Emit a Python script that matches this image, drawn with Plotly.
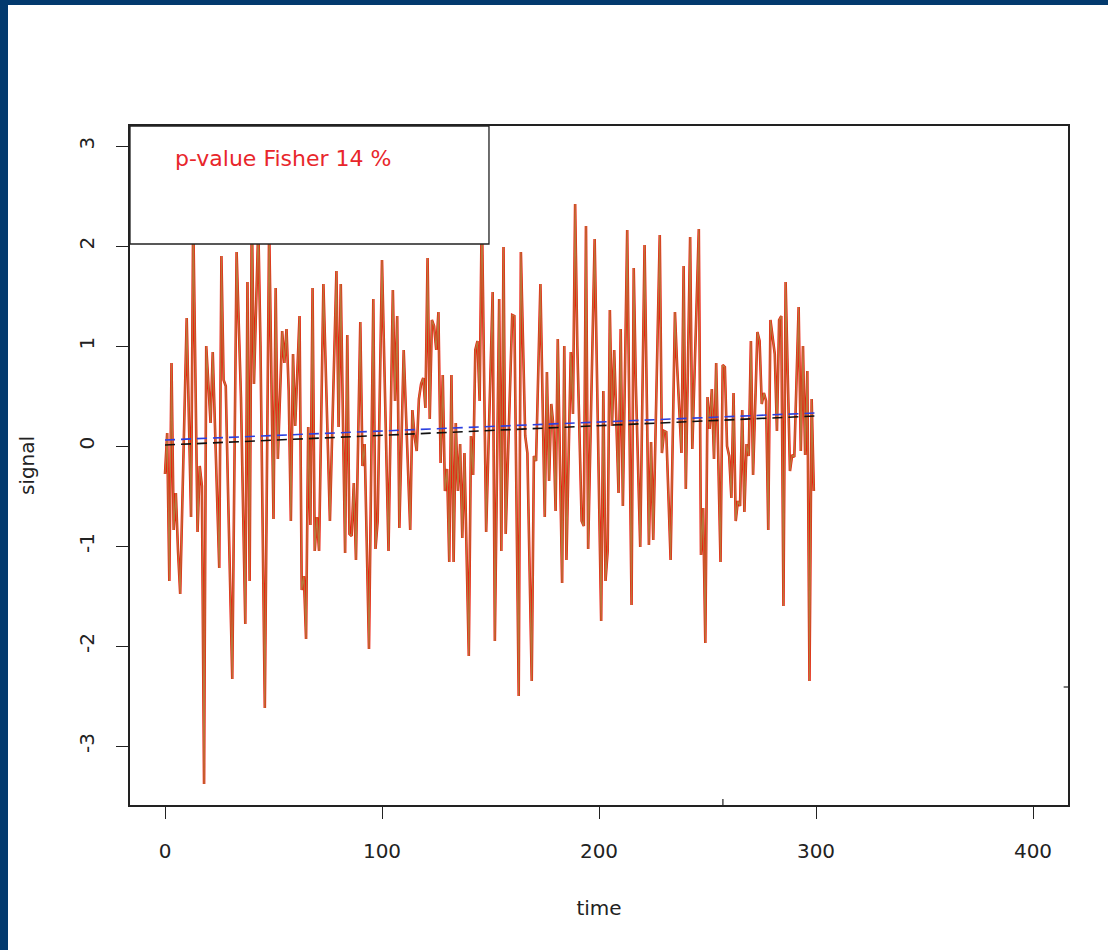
import plotly.graph_objects as go

# ---- data ----
time = [0, 1, 2, 3, 4, 5, 6, 7, 10, 12, 13, 15, 16, 17, 18, 19, 21, 22, 25, 26, 27, 28, 29, 31, 33,
        35, 37, 38, 39, 40, 41, 43, 44, 46, 48, 49, 50, 51, 52, 53, 54, 55, 56, 57, 58, 59, 60, 62, 63, 64, 65, 66, 67, 68, 69, 70, 71,
        73, 76, 79, 80, 81, 83, 84, 85, 86, 87, 88, 90, 91, 92, 94, 96, 97, 98, 100, 101, 103, 105, 106, 107, 108,
        110, 113, 114, 115, 116, 117, 118, 119, 120, 121, 122, 123, 124, 125, 126, 127, 128, 129, 130, 131, 132, 133, 134, 135, 136, 137, 138, 140, 141, 142, 143, 144, 145, 146, 148, 151, 152,
        154, 155, 156, 157, 160, 161, 163, 164, 166, 167, 169, 170, 171, 173, 175, 176, 177, 178, 179, 180, 181, 183, 184, 185, 187, 188, 189, 190, 192, 193, 194, 195, 198,
        201, 202, 203, 204, 205, 206, 207, 209, 210, 211, 213, 215, 216, 217, 219, 221, 223, 224, 225, 228, 229, 230, 231, 233, 235, 236, 238, 239, 240, 242, 243, 246,
        247, 248, 249, 250, 251, 252, 253, 254, 256, 257, 258, 259, 260, 261, 262, 263, 264, 265, 266, 267, 268, 269, 270, 271, 273, 274, 275, 276, 277, 278, 279, 281, 282, 283, 284, 285, 286, 287, 288, 289, 290, 292, 293, 294, 295, 296, 297, 298, 299]

signal = [-0.28, 0.13, -1.35, 0.83, -0.84, -0.47, -1.05, -1.48, 1.28, -0.71, 2.3, -0.86, -0.2, -0.4, -3.38, 1.0, 0.23, 0.94, -1.22, 1.9, 0.66, 0.6, -0.41, -2.33, 1.94,
          0.49, -1.78, 1.64, -1.35, 2.4, 0.62, 2.2, 1.0, -2.62, 2.2, 0.62, -0.73, 1.58, -0.13, 0.5, 1.15, 0.83, 1.17, 0.55, -0.75, 0.92, 0.2, 1.30, -1.44, -1.3, -1.93, 0.19, -0.79, 1.58, -1.05, -0.71, -1.05,
          1.62, -0.75, 1.75, 0.19, 1.62, -1.07, 1.11, -0.88, -0.9, -0.37, -1.14, 1.24, -0.2, 0.02, -2.03, 1.47, -1.03, -0.75, 1.86, 0.9, -1.05, 1.56, 0.45, 1.30, -0.82,
          0.96, -0.84, 0.36, 0.10, -0.05, 0.47, 0.62, 0.68, 0.38, 1.88, 0.27, 1.26, 1.20, 0.96, 1.34, -0.17, 0.71, -0.45, -0.23, -1.16, 0.71, -1.16, 0.23, -0.45, 0.02, -0.92, -0.07, -2.1, 0.10, -0.29, 0.96, 1.05, 0.45, 2.4, -0.86, 1.54, -1.95,
          1.47, -1.05, 1.99, -0.88, 1.31, 1.30, -2.5, 1.94, 0.10, -0.07, -2.35, -0.1, -0.15, 1.62, -0.71, 0.74, -0.35, 0.42, 0.2, -0.65, 1.07, -1.37, 1.00, -1.14, 0.94, 0.32, 2.42, 1.0, -0.75, -0.8, 2.2, -1.03, 2.07,
          -1.75, 0.55, -1.35, -1.05, 1.36, 0.2, 0.96, -0.47, 1.17, -0.6, 2.16, -1.59, 1.78, 0.6, -1.01, 2.01, -0.99, 0.04, -0.94, 2.11, -0.07, 0.15, 0.14, -1.14, 1.34, 0.8, -0.07, 1.8, -0.43, 2.09, -0.03, 2.17,
          -1.09, -0.62, -1.97, 0.49, 0.17, 0.57, -0.13, 0.83, -1.16, 0.81, 0.79, 0.0, -0.1, -0.52, 0.53, -0.75, -0.55, -0.6, 0.36, -0.66, 0.02, -0.1, 1.05, -0.29, 1.14, 1.05, 0.42, 0.53, 0.45, -0.84, 1.26, 0.92, 0.15, 1.26, 1.30, -1.6, 1.64, 0.7, -0.25, -0.09, -0.11, 1.39, -0.05, 1.0, -0.09, 0.75, -2.35, 0.47, -0.45]

trend_time = [0, 300]
trend_black = [0.01, 0.30]
trend_blue = [0.06, 0.33]

x_ticks = [0, 100, 200, 300, 400]
x_labels = ["0", "100", "200", "300", "400"]
y_ticks = [-3, -2, -1, 0, 1, 2, 3]
y_labels = ["-3", "-2", "-1", "0", "1", "2", "3"]
legend_text = "p-value Fisher 14 %"

FONT = "DejaVu Sans"

fig = go.Figure()
fig.add_trace(go.Scatter(x=time, y=signal, mode="lines",
                         line=dict(color="#ee1c0e", width=2.6), showlegend=False))
fig.add_trace(go.Scatter(x=time, y=signal, mode="lines",
                         line=dict(color="#b8773a", width=1.3), showlegend=False))
fig.add_trace(go.Scatter(x=trend_time, y=trend_black, mode="lines",
                         line=dict(color="#111111", width=1.6, dash="10px,6px"), showlegend=False))
fig.add_trace(go.Scatter(x=trend_time, y=trend_blue, mode="lines",
                         line=dict(color="#2b3fe0", width=1.6, dash="10px,6px"), showlegend=False))

X0, X1 = -16.13, 416.13
Y0, Y1 = -3.59, 3.20

fig.update_layout(
    width=1108, height=950,
    margin=dict(l=130, r=40, t=126, b=145),
    paper_bgcolor="white", plot_bgcolor="white",
    font=dict(family=FONT, size=20, color="#222222"),
    xaxis=dict(range=[X0, X1], tickvals=x_ticks, ticktext=x_labels, ticks="outside", ticklen=12,
               tickwidth=1.2, tickcolor="#222", showgrid=False, zeroline=False, showline=True,
               linecolor="#222", linewidth=1.5, mirror=True, ticklabelstandoff=15, automargin=False,
               title=dict(text="time", standoff=39, font=dict(size=20))),
    yaxis=dict(range=[Y0, Y1], tickvals=y_ticks, ticktext=y_labels, ticks="outside", ticklen=12,
               tickwidth=1.2, tickcolor="#222", showgrid=False, zeroline=False, showline=True,
               linecolor="#222", linewidth=1.5, mirror=True, tickangle=-90, ticklabelstandoff=14,
               automargin=False,
               title=dict(text="signal", standoff=35, font=dict(size=20))),
)

# legend box (opaque, drawn over the lines like R's legend)
fig.add_shape(type="rect", xref="x", yref="y", x0=X0, x1=149.3, y0=2.02, y1=Y1,
              fillcolor="white", line=dict(color="#222", width=1.3), layer="above")
fig.add_annotation(x=3.8, y=2.88, xref="x", yref="y", text=legend_text, showarrow=False,
                   xanchor="left", yanchor="middle",
                   font=dict(family=FONT, size=22, color="#e8262b"))

# small stray ticks seen inside the frame
fig.add_shape(type="line", xref="x", yref="y", x0=257.1, x1=257.1, y0=Y0, y1=Y0 + 0.06,
              line=dict(color="#222", width=1.2), layer="above")
fig.add_shape(type="line", xref="x", yref="y", x0=X1, x1=X1 - 2.0, y0=-2.41, y1=-2.41,
              line=dict(color="#222", width=1.2), layer="above")

# dark blue frame on the left and top edges of the picture
W, H = 938.0, 679.0
fig.add_shape(type="rect", xref="paper", yref="paper", x0=-130 / W, x1=-122 / W,
              y0=-145 / H, y1=1 + 126 / H, fillcolor="#033a6e", line=dict(width=0), layer="above")
fig.add_shape(type="rect", xref="paper", yref="paper", x0=-130 / W, x1=1 + 40 / W,
              y0=1 + 121 / H, y1=1 + 126 / H, fillcolor="#033a6e", line=dict(width=0), layer="above")

fig.write_html("out.html", config={"displayModeBar": False},
               post_script="document.body.style.margin='0px';document.body.style.overflow='hidden';")
